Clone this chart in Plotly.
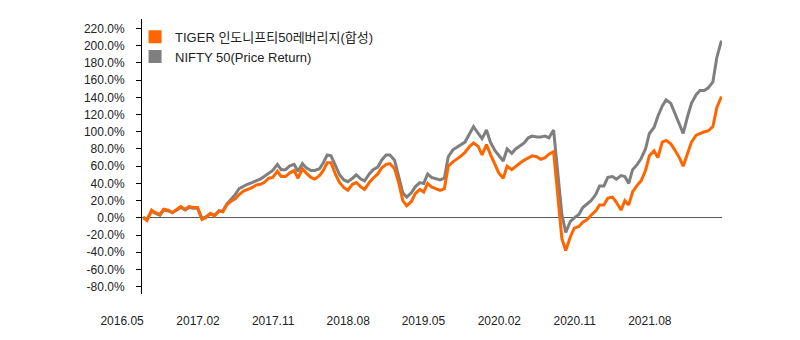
import pandas as pd
import plotly.graph_objects as go

# semi-monthly observation dates
dates = pd.date_range("2016-05-01", "2022-02-01", freq="SMS")

tiger = [1, -3, 9, 6, 4, 10, 9, 6, 10, 13, 10, 13, 12, 12, -2, 0, 5, 2, 8, 7,
         15, 19, 22, 27, 31, 33, 35, 38, 39, 41, 46, 47, 54, 48, 48, 52, 55, 46, 57, 52,
         47, 45, 49, 55, 64, 64, 50, 41, 35, 32, 39, 41, 36, 33, 41, 46, 51, 58, 62, 63,
         57, 42, 20, 14, 19, 28, 33, 30, 40, 36, 34, 32, 34, 60, 65, 68, 72, 76, 83, 87,
         83, 73, 85, 74, 62, 52, 46, 60, 56, 60, 64, 67, 70, 72, 71, 68, 70, 74, 77, 30,
         -24, -38, -22, -12, -10, -5, -2, 3, 8, 15, 15, 23, 24, 18, 9, 20, 15, 30, 38, 43,
         55, 72, 78, 70, 88, 90, 86, 79, 70, 60, 76, 88, 96, 98, 100, 101, 106, 128, 141]

nifty = [0, -2, 8, 5, 3, 9, 8, 6, 9, 12, 9, 12, 11, 11, -1, 1, 5, 3, 8, 8,
         16, 21, 27, 34, 37, 39, 41, 43, 45, 48, 52, 55, 62, 56, 56, 60, 62, 54, 63, 58,
         55, 55, 57, 64, 73, 72, 60, 50, 44, 42, 46, 50, 45, 43, 51, 56, 59, 67, 73, 73,
         67, 50, 29, 24, 29, 36, 41, 40, 51, 47, 45, 44, 46, 71, 79, 82, 86, 88, 98, 106,
         98, 92, 102, 88, 78, 72, 66, 80, 75, 80, 84, 87, 93, 95, 94, 94, 95, 93, 102, 56,
         4, -17, -4, 0, 4, 12, 16, 20, 27, 37, 37, 47, 48, 45, 49, 48, 40, 56, 62, 69,
         80, 98, 105, 118, 130, 137, 133, 122, 108, 98, 118, 133, 143, 148, 148, 151, 158, 186, 206]

series_names = ["TIGER 인도니프티50레버리지(합성)", "NIFTY 50(Price Return)"]
colors = ["#FF6600", "#7F7F7F"]

y_ticks = list(range(-80, 221, 20))
y_labels = [f"{v:.1f}%" for v in y_ticks]
x_ticks = ["2016-05-01", "2017-02-01", "2017-11-01", "2018-08-01",
           "2019-05-01", "2020-02-01", "2020-11-01", "2021-08-01"]
x_labels = ["2016.05", "2017.02", "2017.11", "2018.08",
            "2019.05", "2020.02", "2020.11", "2021.08"]

assert len(dates) == len(tiger) == len(nifty)

FONT = "Liberation Sans, Arial, Noto Sans CJK KR, sans-serif"

fig = go.Figure()
# lines (gray beneath orange)
fig.add_trace(go.Scatter(x=dates, y=nifty, mode="lines", line=dict(color=colors[1], width=3),
                         showlegend=False, hoverinfo="skip"))
fig.add_trace(go.Scatter(x=dates, y=tiger, mode="lines", line=dict(color=colors[0], width=3),
                         showlegend=False, hoverinfo="skip"))
# legend entries with square swatches
for name, c in zip(series_names, colors):
    fig.add_trace(go.Scatter(x=[None], y=[None], mode="markers", name=name,
                             marker=dict(symbol="square", size=13, color=c)))

fig.update_layout(
    width=800, height=340,
    margin=dict(l=142, r=78, t=19, b=46),
    plot_bgcolor="white", paper_bgcolor="white",
    font=dict(family=FONT, size=12, color="#222222"),
    showlegend=True,
    legend=dict(x=-0.012, y=0.99, xanchor="left", yanchor="top",
                bgcolor="rgba(0,0,0,0)", font=dict(size=13, color="#222222"),
                tracegroupgap=0, itemclick=False),
    xaxis=dict(type="date", range=["2016-04-27", "2022-02-03"],
               tickvals=x_ticks, ticktext=x_labels, ticks="",
               showgrid=False, showline=False, zeroline=False,
               ticklabelstandoff=18, ticklabelshift=-21,
               tickfont=dict(size=12, color="#222222")),
    yaxis=dict(range=[-88.5, 231], tickvals=y_ticks, ticktext=y_labels,
               ticks="outside", ticklen=5, tickcolor="black", tickwidth=1,
               showline=True, linecolor="black", linewidth=1,
               showgrid=False, zeroline=True, zerolinecolor="#595959", zerolinewidth=1,
               ticklabelstandoff=9, tickfont=dict(size=12, color="#222222")),
)

fig.write_html("out.html")
